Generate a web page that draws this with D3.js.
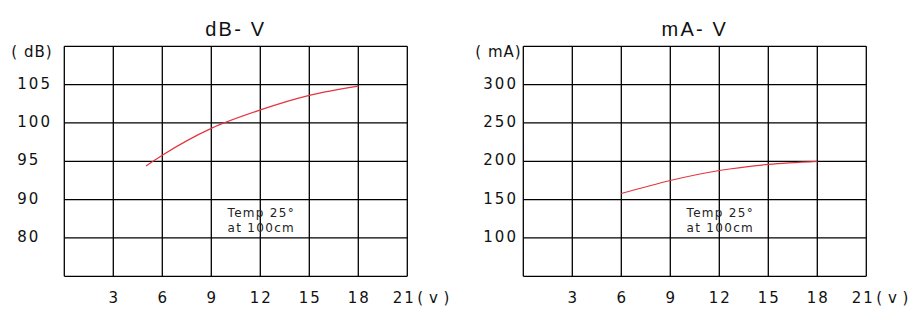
<!DOCTYPE html>
<html>
<head>
<meta charset="utf-8">
<script src="https://cdn.jsdelivr.net/npm/d3@7"></script>
<style>
  html, body { margin: 0; padding: 0; background: #fff; }
  svg { display: block; }
  .tick-label { font-family: "DejaVu Sans", sans-serif; font-size: 15px; letter-spacing: 2px; fill: #111; }
  .title { font-family: "Liberation Sans", Arial, sans-serif; font-size: 20px; letter-spacing: 2.2px; fill: #111; }
  .note { font-family: "DejaVu Sans", sans-serif; font-size: 12px; letter-spacing: 1.3px; fill: #222; }
</style>
</head>
<body>
<script>
// x axis (volts), shared by both panels
var voltTicks = [3, 6, 9, 12, 15, 18, 21];

// dB - V panel
var dbVolts = [5, 6, 9, 12, 15, 18];
var dbValues = [94.4, 95.8, 99.3, 101.7, 103.6, 104.8];
var dbTickValues = [105, 100, 95, 90, 85];
var dbTickLabels = ["105", "100", "95", "90", "80"];

// mA - V panel
var maVolts = [6, 9, 12, 15, 18];
var maValues = [158, 175, 188, 196, 200];
var maTickValues = [300, 250, 200, 150, 100];
var maTickLabels = ["300", "250", "200", "150", "100"];

var noteLines = ["Temp 25°", "at 100cm"];

var width = 924, height = 323;
var plotW = 343, plotH = 230, plotTop = 46.3;

var svg = d3.select("body").append("svg")
  .attr("width", width)
  .attr("height", height);

function drawPanel(opts) {
  var g = svg.append("g")
    .attr("transform", "translate(" + opts.left + "," + plotTop + ")");

  var x = d3.scaleLinear().domain([0, 21]).range([0, plotW]);
  var y = d3.scaleLinear().domain(opts.yDomain).range([plotH, 0]);

  // grid (the frame is part of it)
  g.append("g").selectAll("line")
    .data(d3.range(0, 22, 3))
    .enter().append("line")
    .attr("x1", function (d) { return x(d); })
    .attr("x2", function (d) { return x(d); })
    .attr("y1", 0).attr("y2", plotH)
    .attr("stroke", "#000").attr("stroke-width", 1.3);

  g.append("g").selectAll("line")
    .data(d3.range(opts.yDomain[0], opts.yDomain[1] + opts.yStep / 2, opts.yStep))
    .enter().append("line")
    .attr("x1", 0).attr("x2", plotW)
    .attr("y1", function (d) { return y(d); })
    .attr("y2", function (d) { return y(d); })
    .attr("stroke", "#000").attr("stroke-width", 1.3);

  // y labels, left aligned like the original
  g.append("g").selectAll("text")
    .data(opts.tickValues)
    .enter().append("text")
    .attr("class", "tick-label")
    .attr("x", opts.labelDx)
    .attr("y", function (d) { return y(d) + 4; })
    .text(function (d, i) { return opts.tickLabels[i]; });

  g.append("text")
    .attr("class", "tick-label")
    .attr("x", opts.unitDx)
    .attr("y", 11)
    .style("letter-spacing", "1px")
    .text(opts.unit);

  // x labels (last one sits a bit left to make room for the unit)
  g.append("g").selectAll("text")
    .data(voltTicks)
    .enter().append("text")
    .attr("class", "tick-label")
    .attr("text-anchor", "middle")
    .attr("x", function (d) { return x(d) + (d === 21 ? -3 : 1); })
    .attr("y", plotH + 27)
    .text(function (d) { return d; });

  g.append("text")
    .attr("class", "tick-label")
    .attr("x", x(21) + 10)
    .attr("y", plotH + 27)
    .style("letter-spacing", "0.5px")
    .text("( v )");

  // title
  g.append("text")
    .attr("class", "title")
    .attr("text-anchor", "middle")
    .attr("x", plotW / 2)
    .attr("y", -10)
    .text(opts.title);

  // note
  g.append("g").selectAll("text")
    .data(noteLines)
    .enter().append("text")
    .attr("class", "note")
    .attr("text-anchor", "middle")
    .attr("x", x(12) + 1)
    .attr("y", function (d, i) { return y(opts.noteAt) + i * 15; })
    .text(function (d) { return d; });

  // curve
  var line = d3.line()
    .x(function (d) { return x(d[0]); })
    .y(function (d) { return y(d[1]); })
    .curve(d3.curveMonotoneX);

  g.append("path")
    .datum(d3.zip(opts.volts, opts.values))
    .attr("fill", "none")
    .attr("stroke", "#e3343f")
    .attr("stroke-width", 1.2)
    .attr("d", line);
}

drawPanel({
  left: 64.3, title: "dB- V", unit: "( dB)",
  yDomain: [80, 110], yStep: 5,
  tickValues: dbTickValues, tickLabels: dbTickLabels,
  labelDx: -47, unitDx: -53, noteAt: 87.7,
  volts: dbVolts, values: dbValues
});

drawPanel({
  left: 523.3, title: "mA- V", unit: "( mA)",
  yDomain: [50, 350], yStep: 50,
  tickValues: maTickValues, tickLabels: maTickLabels,
  labelDx: -40, unitDx: -48, noteAt: 127.4,
  volts: maVolts, values: maValues
});
</script>
</body>
</html>
